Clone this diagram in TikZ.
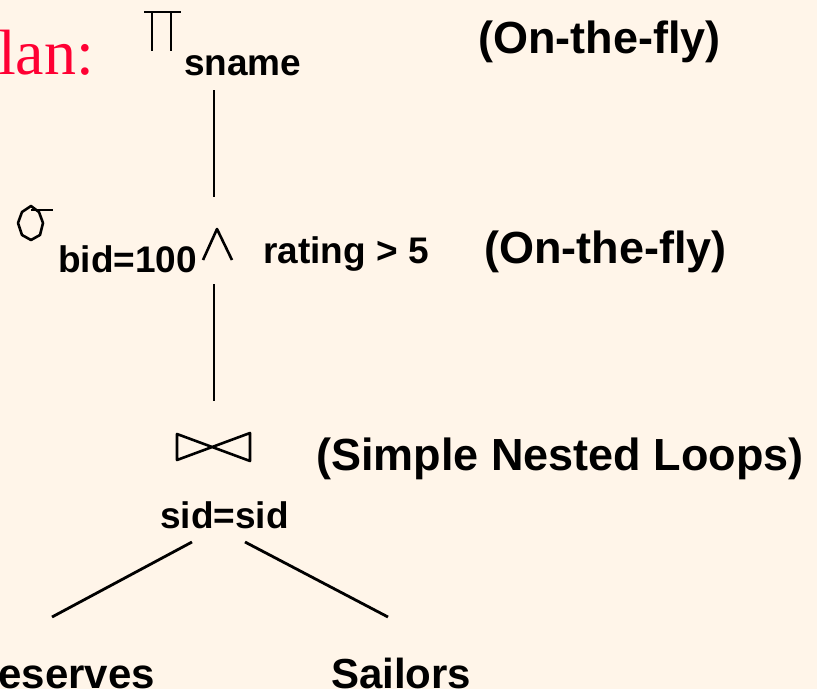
\documentclass[tikz,border=0pt]{standalone}
\usepackage{fontspec}
\setmainfont{Liberation Sans}
\newfontfamily\planfont{Liberation Serif}
\usetikzlibrary{positioning,calc}

\definecolor{slidebg}{RGB}{255,245,233}
\definecolor{planred}{RGB}{255,0,51}

\begin{document}
\begin{tikzpicture}[
    x=1pt, y=-1pt,
    lbl/.style={inner sep=0pt, anchor=base west, font=\bfseries\fontsize{37}{40}\selectfont},
    note/.style={lbl, font=\bfseries\fontsize{45}{50}\selectfont},
    rel/.style={lbl, font=\bfseries\fontsize{42}{46}\selectfont},
    edge/.style={line width=2.8pt},
    sym/.style={line width=2.6pt, line join=round}
]

% Background and frame
\fill[slidebg] (0,0) rectangle (817,689);
\useasboundingbox (0,0) rectangle (817,689);
\clip (0,0) rectangle (817,689);

% Slide title remnant
\node[inner sep=0pt, anchor=base west, text=planred, font=\planfont\fontsize{64}{66}\selectfont] (title) at (-2,74) {lan:};

% Projection
\draw[sym] (144,12) -- (181,12);
\draw[sym] (152,12) -- (152,51);
\draw[sym] (171,12) -- (171,51);
\node[lbl] (sname) at (184,75) {sname};
\node[note] (fly1) at (478,53) {(On-the-fly)};

% Selection
\draw[sym] (31,206) -- (22,212) -- (18,223) -- (22,235) -- (31,240) -- (40,235) -- (43,223) -- (39,212) -- cycle;
\draw[sym] (31,210) -- (53,210);
\node[lbl] (bid) at (58,272) {bid=100};
\draw[sym] (203,260) -- (217,229) -- (232,260);
\node[lbl] (rating) at (263,263) {rating > 5};
\node[note] (fly2) at (484,263) {(On-the-fly)};

% Join
\draw[sym] (177,434) -- (250,461) -- (250,433) -- (177,460) -- cycle;
\node[lbl] (sidsid) at (160,528) {sid=sid};
\node[note] (snl) at (316,470) {(Simple Nested Loops)};

% Relations
\node[rel, anchor=base east] (reserves) at (155,688) {eserves};
\node[rel] (sailors) at (331,688) {Sailors};

% Tree edges
\coordinate (projlow) at (214,90);
\coordinate (seltop) at (214,197);
\coordinate (sellow) at (214,284);
\coordinate (jointop) at (214,401);
\coordinate (joinleft) at (192,542);
\coordinate (joinright) at (245,542);
\coordinate (restop) at (52,617);
\coordinate (sailtop) at (388,617);

\draw[edge] (projlow) -- (seltop);
\draw[edge] (sellow) -- (jointop);
\draw[edge] (joinleft) -- (restop);
\draw[edge] (joinright) -- (sailtop);

\end{tikzpicture}
\end{document}
